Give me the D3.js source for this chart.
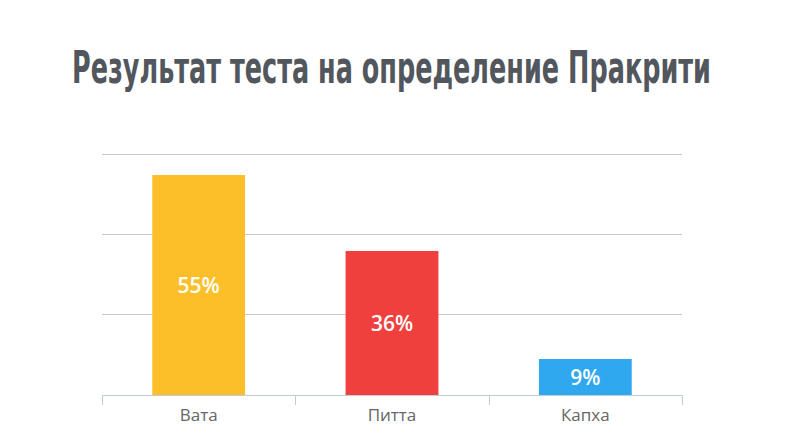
<!DOCTYPE html>
<html>
<head>
<meta charset="utf-8">
<script src="https://cdn.jsdelivr.net/npm/d3@7"></script>
<style>
  body { margin: 0; background: #fff; }
  svg { display: block; }
</style>
</head>
<body>
<script>
// chart data
const categories = ["Вата", "Питта", "Капха"];
const values = [55, 36, 9];
const colors = ["#fcbf2a", "#f0403e", "#2fa8ef"];
const yTicks = [0, 20, 40, 60];
const titleText = "Результат теста на определение Пракрити";

const W = 808, H = 440;
const margin = { left: 102, right: 126, top: 155, bottom: 45 };

const svg = d3.select("body").append("svg")
    .attr("width", W)
    .attr("height", H);

svg.append("text")
    .attr("x", 72)
    .attr("y", 83)
    .attr("textLength", 639)
    .attr("lengthAdjust", "spacingAndGlyphs")
    .attr("font-family", "'Liberation Sans Narrow', 'DejaVu Sans Condensed', sans-serif")
    .attr("font-weight", "bold")
    .attr("font-size", 44)
    .attr("fill", "#52575d")
    .text(titleText);

const x = d3.scaleBand()
    .domain(categories)
    .range([margin.left, W - margin.right])
    .paddingInner(0.52)
    .paddingOuter(0.26);

const y = d3.scaleLinear()
    .domain([0, 60])
    .range([H - margin.bottom, margin.top]);

// gridlines
svg.append("g")
    .selectAll("line")
    .data(yTicks.slice(1))
    .join("line")
    .attr("x1", margin.left)
    .attr("x2", W - margin.right)
    .attr("y1", d => Math.round(y(d)) - 0.5)
    .attr("y2", d => Math.round(y(d)) - 0.5)
    .attr("stroke", "#c6c6c6")
    .attr("stroke-width", 1);

// bars
svg.append("g")
    .selectAll("rect")
    .data(values)
    .join("rect")
    .attr("x", (d, i) => x(categories[i]))
    .attr("width", x.bandwidth())
    .attr("y", d => y(d))
    .attr("height", d => y(0) - y(d))
    .attr("fill", (d, i) => colors[i]);

// value labels
svg.append("g")
    .selectAll("text")
    .data(values)
    .join("text")
    .attr("x", (d, i) => x(categories[i]) + x.bandwidth() / 2)
    .attr("y", d => (y(d) + y(0)) / 2)
    .attr("dy", "0.36em")
    .attr("text-anchor", "middle")
    .attr("font-family", "'Open Sans', sans-serif")
    .attr("font-weight", 600)
    .attr("font-size", 21)
    .attr("fill", "#fff")
    .text(d => d + "%");

// x axis
const xAxisScale = d3.scalePoint()
    .domain(d3.range(categories.length + 1))
    .range([margin.left, W - margin.right]);

const axis = svg.append("g");
axis.append("line")
    .attr("x1", margin.left)
    .attr("x2", W - margin.right)
    .attr("y1", Math.round(y(0)) + 0.5)
    .attr("y2", Math.round(y(0)) + 0.5)
    .attr("stroke", "#c0ccd8");
axis.selectAll(".tick")
    .data(xAxisScale.domain())
    .join("line")
    .attr("x1", d => Math.round(xAxisScale(d)) + 0.5)
    .attr("x2", d => Math.round(xAxisScale(d)) + 0.5)
    .attr("y1", Math.round(y(0)))
    .attr("y2", Math.round(y(0)) + 10)
    .attr("stroke", "#c0ccd8");

axis.selectAll("text")
    .data(categories)
    .join("text")
    .attr("x", d => x(d) + x.bandwidth() / 2)
    .attr("y", y(0) + 20)
    .attr("dy", "0.36em")
    .attr("text-anchor", "middle")
    .attr("font-family", "'Open Sans', sans-serif")
    .attr("font-size", 17)
    .attr("fill", "#666")
    .text(d => d);
</script>
</body>
</html>
